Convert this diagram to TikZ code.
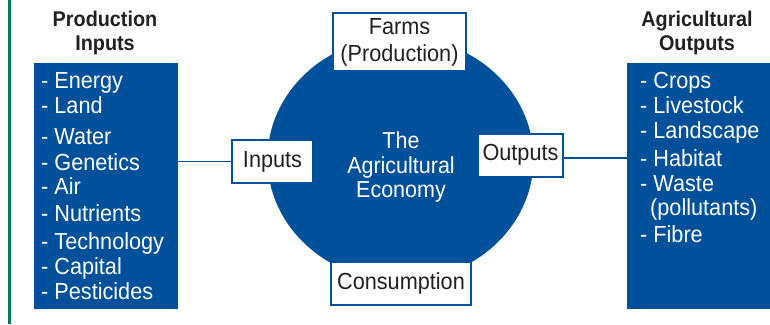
\documentclass[tikz,border=0pt]{standalone}
\usepackage{fontspec}
\setmainfont[FakeStretch=0.93]{Liberation Sans}
\usetikzlibrary{shapes.geometric}
\definecolor{ablue}{RGB}{0,80,155}
\definecolor{agreen}{RGB}{0,121,90}
\definecolor{atext}{RGB}{35,31,32}
\tikzset{
  panel/.style={fill=ablue, draw=none, inner sep=0pt},
  wbox/.style={draw=ablue, line width=2pt, fill=white, inner sep=0pt, text=atext, align=center, font=\fontsize{23.3}{27}\selectfont},
  item/.style={anchor=base west, inner sep=0pt, text=white, font=\fontsize{23.3}{24}\selectfont},
  ttl/.style={anchor=base, inner sep=0pt, text=atext, font=\bfseries\fontsize{21.3}{23}\selectfont},
  ctext/.style={anchor=base, inner sep=0pt, text=white, font=\fontsize{23.1}{24}\selectfont},
  link/.style={draw=ablue, line width=1.4pt}
}
\begin{document}
\begin{tikzpicture}[x=1pt,y=-1pt]
\useasboundingbox (0,0) rectangle (770,324);
\draw[agreen, line width=3pt] (9,0) -- (9,324);
% panels
\node[panel, minimum width=144, minimum height=246] (lbox) at (106,186) {};
\node[panel, minimum width=143, minimum height=246] (rbox) at (698.5,186) {};
% titles
\node[ttl] (lt1) at (105,27) {Production};
\node[ttl] (lt2) at (105,50) {Inputs};
\node[ttl] (rt1) at (697,27) {Agricultural};
\node[ttl] (rt2) at (697,50) {Outputs};
% left items
\node[item] (l1) at (41,88) {- Energy};
\node[item] (l2) at (41,113) {- Land};
\node[item] (l3) at (41,144) {- Water};
\node[item] (l4) at (41,170) {- Genetics};
\node[item] (l5) at (41,194) {- Air};
\node[item] (l6) at (41,221) {- Nutrients};
\node[item] (l7) at (41,249) {- Technology};
\node[item] (l8) at (41,274) {- Capital};
\node[item] (l9) at (41,299) {- Pesticides};
% right items
\node[item] (r1) at (640,88) {- Crops};
\node[item] (r2) at (640,113) {- Livestock};
\node[item] (r3) at (640,138) {- Landscape};
\node[item] (r4) at (640,166) {- Habitat};
\node[item] (r5) at (640,191) {- Waste};
\node[item] (r6) at (650,215) {(pollutants)};
\node[item] (r7) at (640,242) {- Fibre};
% economy
\node[ellipse, fill=ablue, minimum width=266, minimum height=244, inner sep=0pt] (econ) at (400.5,159) {};
\node[ctext] (c1) at (401,148) {The};
\node[ctext] (c2) at (401,173) {Agricultural};
\node[ctext] (c3) at (401,197) {Economy};
% boxes
\node[wbox, minimum width=133, minimum height=58] (farms) at (399.5,42) {Farms\\(Production)};
\node[wbox, minimum width=81, minimum height=43] (inputs) at (272.5,161.5) {Inputs};
\node[wbox, minimum width=85, minimum height=43] (outputs) at (520.5,155) {Outputs};
\node[wbox, minimum width=140, minimum height=43] (cons) at (401,283.5) {Consumption};
% connectors
\draw[link] (lbox.east |- inputs.west) -- (inputs.west);
\coordinate (oc) at ([yshift=-3pt]outputs.east);
\draw[link] (oc) -- (rbox.west |- oc);
\end{tikzpicture}
\end{document}
